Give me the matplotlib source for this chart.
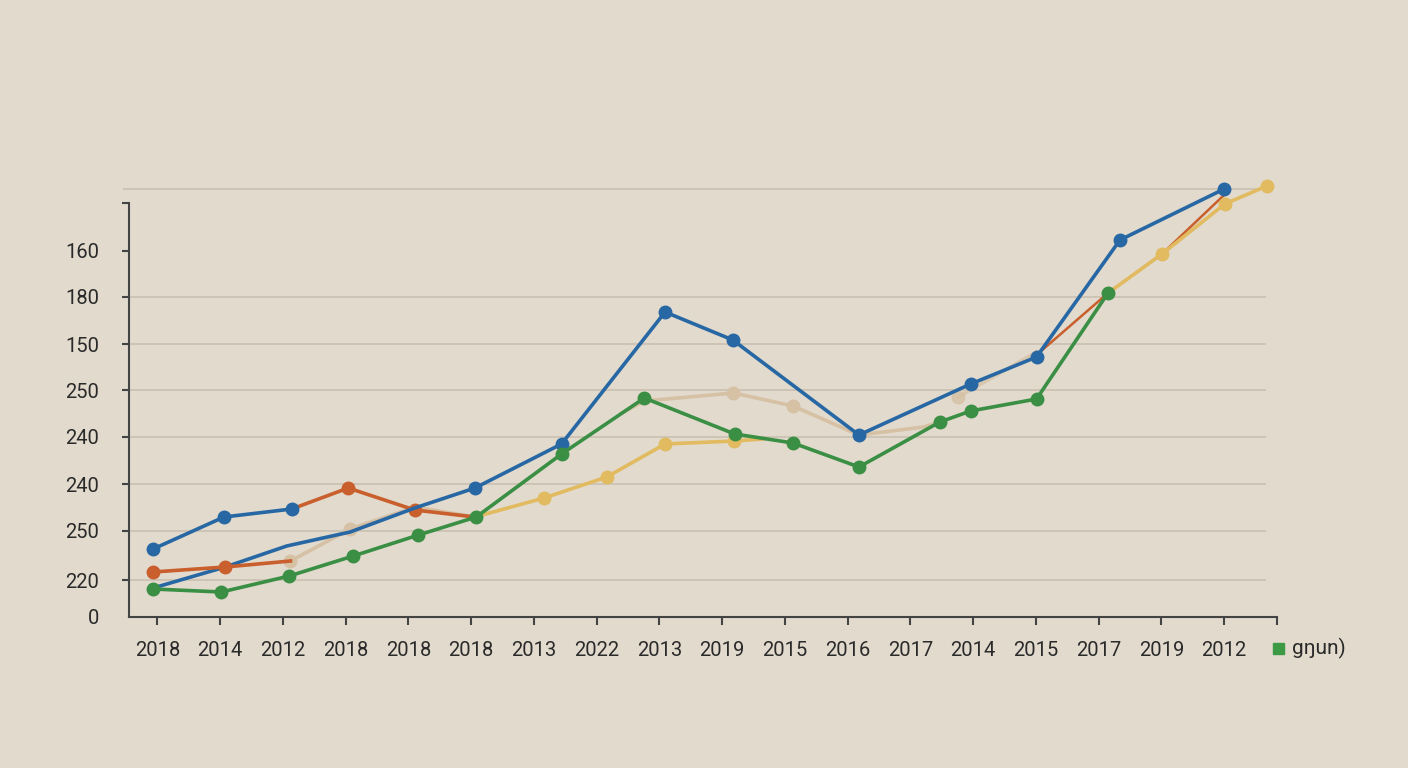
import matplotlib
matplotlib.use("Agg")
import matplotlib.pyplot as plt
from matplotlib.patches import Rectangle

plt.rcParams['font.family'] = ['Roboto', 'DejaVu Sans']

# x tick labels (as printed on the chart)
x_labels = ["2018", "2014", "2012", "2018", "2018", "2018", "2013", "2022", "2013",
            "2019", "2015", "2016", "2017", "2014", "2015", "2017", "2019", "2012"]

# y tick positions / labels (labels are not monotonic in the original)
y_ticks = [0, 37, 86, 133, 180, 227, 273, 320, 366, 414]
y_labels = ["0", "220", "250", "240", "240", "250", "150", "180", "160", ""]
grid_levels = [37, 86, 133, 180, 227, 273, 320]
top_line = 428

# series (x in category positions, y in chart units)
blue_a_x = [-0.07, 1.06, 2.14]
blue_a_y = [68, 100, 108]
blue_b_x = [-0.07, 1.08, 2.06, 3.07, 4.10, 5.06, 6.44, 8.09, 9.17, 11.18, 12.96, 14.01, 15.34, 17.00]
blue_b_y = [29, 50, 71, 85, 109, 129, 173, 305, 277, 182, 233, 260, 377, 428]

orange_a_x = [-0.07, 1.08, 2.12]
orange_a_y = [45, 50, 56]
orange_b_x = [2.14, 3.04, 4.10, 5.06]
orange_b_y = [108, 129, 107, 100]
orange_c_x = [14.01, 15.15, 16.01, 17.00]
orange_c_y = [262, 324, 363, 422]

beige_a_x = [2.12, 3.07, 4.10, 5.06]
beige_a_y = [56, 88, 110, 100]
beige_b_x = [7.40, 7.76, 9.18, 10.13, 11.18, 12.21, 12.47]
beige_b_y = [204, 216, 224, 211, 182, 190, 195]
beige_c_x = [12.76, 14.01]
beige_c_y = [220, 265]

yellow_a_x = [5.06, 6.16, 7.16, 8.09, 9.19, 9.65]
yellow_a_y = [100, 119, 140, 173, 176, 178]
yellow_b_x = [15.15, 16.01, 17.01, 17.68]
yellow_b_y = [324, 363, 413, 431]

green_x = [-0.07, 1.02, 2.10, 3.12, 4.16, 5.08, 6.44, 7.76, 9.20, 10.13, 11.18, 12.47, 12.96, 14.01, 15.15]
green_y = [28, 25, 41, 61, 82, 100, 163, 219, 183, 174, 150, 195, 206, 218, 324]

legend_text = "gŋun)"

# colours
bg = "#e1dacd"
c_blue = "#2767a3"
c_orange = "#c85f2c"
c_green = "#3a8f44"
c_yellow = "#e2bb60"
c_beige = "#d6c1a5"
c_grid = "#cbc2b4"
c_axis = "#444444"
c_text = "#2a2a2a"

fig = plt.figure(figsize=(14.08, 7.68), dpi=100, facecolor=bg)
ax = fig.add_axes([129 / 1408, 151 / 768, 1148 / 1408, 447 / 768])
ax.set_facecolor(bg)
ax.set_xlim(-0.454, 17.843)
ax.set_ylim(0, 447)

# grid lines
for g in grid_levels:
    ax.axhline(g, xmin=0, xmax=0.9895, color=c_grid, lw=1.3, zorder=0)
ax.axhline(top_line, xmin=-0.0044, xmax=0.985, color=c_grid, lw=1.3, zorder=0, clip_on=False)

lw = 2.6
ms = 9

# beige
ax.plot(beige_a_x, beige_a_y, color=c_beige, lw=lw, marker='o', ms=ms, markevery=[0, 1], zorder=2, clip_on=False)
ax.plot(beige_b_x, beige_b_y, color=c_beige, lw=lw, marker='o', ms=ms, markevery=[2, 3], zorder=2, clip_on=False)
ax.plot(beige_c_x, beige_c_y, color=c_beige, lw=lw, marker='o', ms=ms, markevery=[0], zorder=2, alpha=0.8, clip_on=False)

# orange
ax.plot(orange_a_x, orange_a_y, color=c_orange, lw=lw, marker='o', ms=ms, markevery=[0, 1], zorder=4, clip_on=False)
ax.plot(orange_b_x, orange_b_y, color=c_orange, lw=lw, marker='o', ms=ms, markevery=[1, 2], zorder=3, clip_on=False)
ax.plot(orange_c_x, orange_c_y, color=c_orange, lw=1.8, zorder=3, clip_on=False)

# yellow
ax.plot(yellow_a_x, yellow_a_y, color=c_yellow, lw=lw, marker='o', ms=ms, markevery=[1, 2, 3, 4], zorder=3, clip_on=False)
ax.plot(yellow_b_x, yellow_b_y, color=c_yellow, lw=lw, marker='o', ms=ms, markevery=[1, 2, 3], zorder=4, clip_on=False)

# blue
ax.plot(blue_a_x, blue_a_y, color=c_blue, lw=lw, marker='o', ms=ms, zorder=5, clip_on=False)
ax.plot(blue_b_x, blue_b_y, color=c_blue, lw=lw, marker='o', ms=ms,
        markevery=list(range(5, len(blue_b_x))), zorder=3.5, clip_on=False)

# green
ax.plot(green_x, green_y, color=c_green, lw=lw, marker='o', ms=ms, zorder=6, clip_on=False)

# axes styling
for s in ['top', 'right']:
    ax.spines[s].set_visible(False)
ax.spines['left'].set_bounds(0, 414)
for s in ['left', 'bottom']:
    ax.spines[s].set_color(c_axis)
    ax.spines[s].set_linewidth(1.5)

ax.set_xticks(list(range(len(x_labels))) + [17.843])
ax.set_xticklabels(x_labels + [""])
ax.set_yticks(y_ticks)
ax.set_yticklabels(y_labels)
ax.tick_params(axis='x', length=5.8, width=1.5, color=c_axis, pad=11.5, labelsize=14.5, labelcolor=c_text)
ax.tick_params(axis='y', length=5, width=1.5, color=c_axis, pad=16.5, labelsize=14.5, labelcolor=c_text)
ax.yaxis.get_major_ticks()[0].tick1line.set_visible(False)

# legend-like marker
fig.add_artist(Rectangle((1273, 768 - 654), 11, 11, transform=None, color="#3c9a45"))
fig.text(1292 / 1408, 1 - 648 / 768, legend_text, fontsize=15, color=c_text, va='center', ha='left')

fig.savefig("out.png", dpi=100, facecolor=bg)
